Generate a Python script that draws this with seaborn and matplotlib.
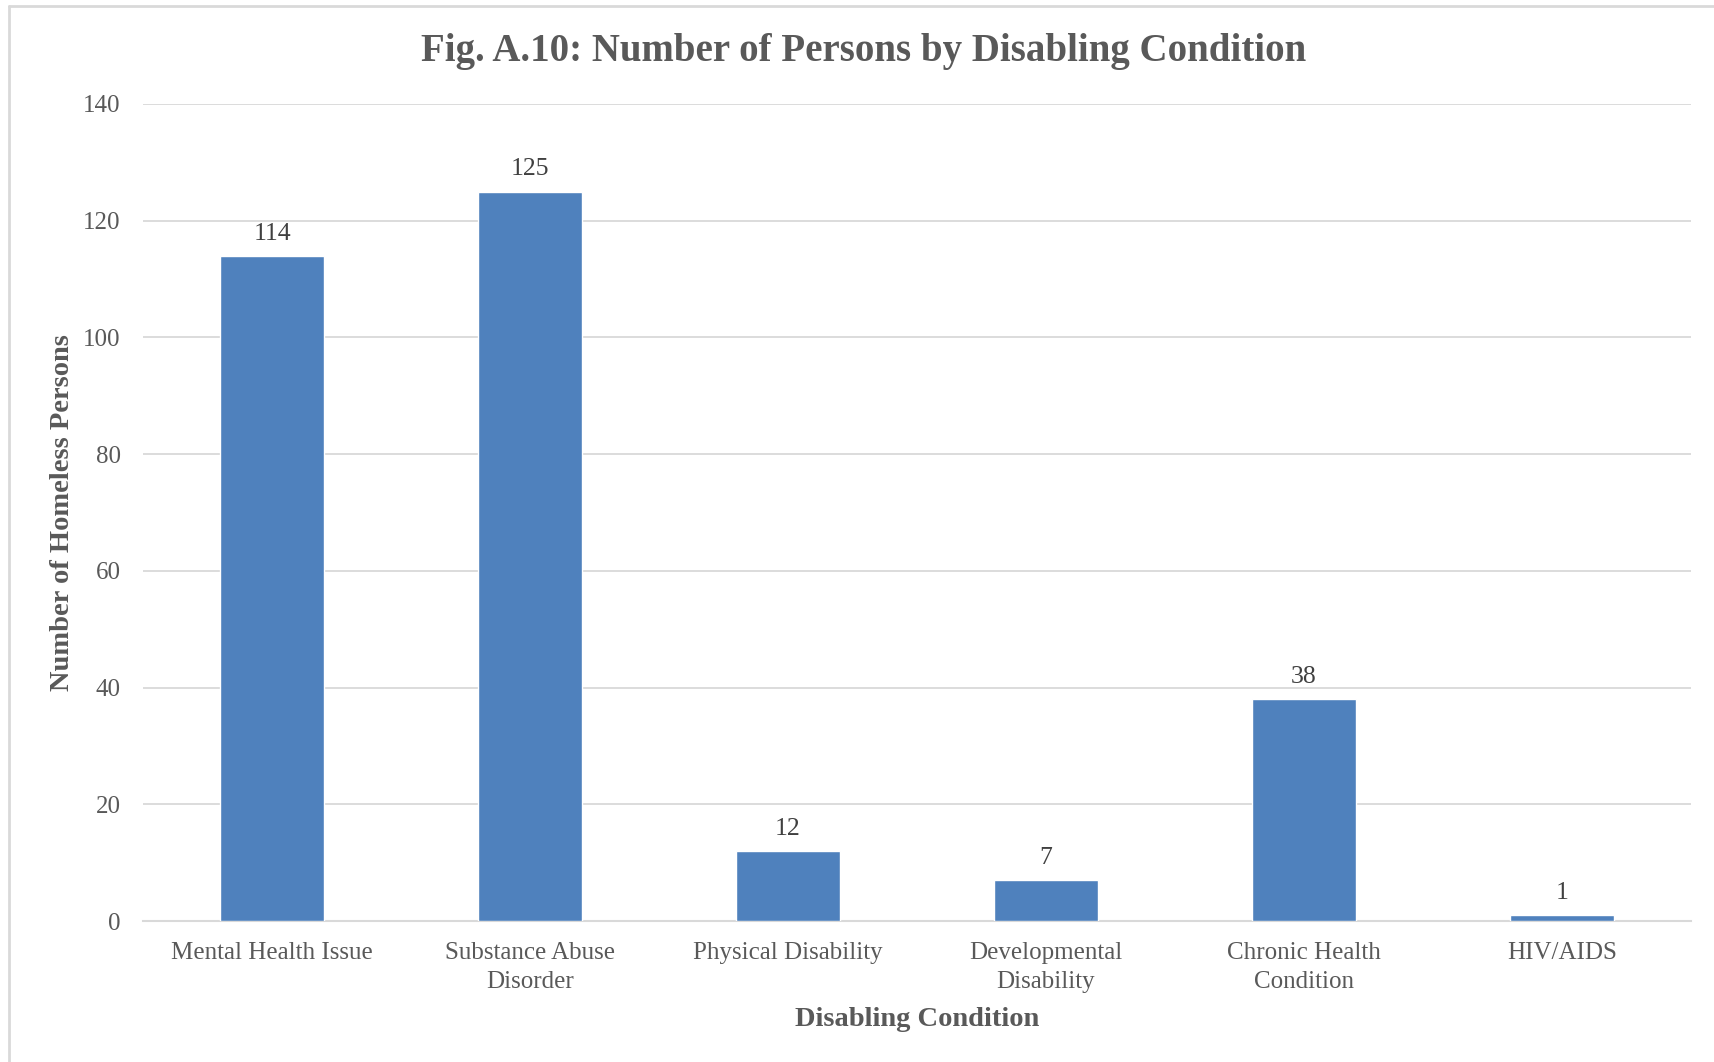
import matplotlib
matplotlib.use("Agg")
import matplotlib.pyplot as plt
import seaborn as sns
import pandas as pd
from matplotlib.lines import Line2D

categories = ["Mental Health Issue", "Substance Abuse\nDisorder", "Physical Disability",
              "Developmental\nDisability", "Chronic Health\nCondition", "HIV/AIDS"]
values = [114, 125, 12, 7, 38, 1]
yticks = [0, 20, 40, 60, 80, 100, 120, 140]

sns.set_theme(style="white")
plt.rcParams['font.family'] = ['Liberation Serif', 'DejaVu Serif']

TXT = "#595959"
BAR = "#4F81BD"
GRID = "#D9D9D9"

W, H = 1715, 1062
fig = plt.figure(figsize=(W / 100, H / 100), dpi=100)
ax = fig.add_axes([143 / W, 1 - 921 / H, (1691 - 143) / W, (921 - 104) / H])

df = pd.DataFrame({"cat": categories, "val": values})
sns.barplot(data=df, x="cat", y="val", color=BAR, width=0.4, saturation=1, ax=ax, zorder=3)

ax.set_ylim(0, 140)
ax.set_yticks(yticks)
ax.set_xlim(-0.5, len(categories) - 0.5)
ax.yaxis.grid(True, color=GRID, linewidth=1.3, zorder=0)
ax.set_axisbelow(True)
for s in ["top", "right", "left"]:
    ax.spines[s].set_visible(False)
ax.spines["bottom"].set_color(GRID)
ax.spines["bottom"].set_linewidth(1.5)
ax.tick_params(axis="both", length=0, colors=TXT, labelsize=18)
ax.tick_params(axis="x", pad=15)
ax.tick_params(axis="y", pad=16)
for lbl in ax.get_xticklabels():
    lbl.set_linespacing(1.4)

for c in ax.containers:
    ax.bar_label(c, labels=[str(v) for v in values], padding=8, fontsize=18.5, color="#404040")

ax.set_xlabel("Disabling Condition", fontsize=20.5, fontweight="bold", color=TXT, labelpad=10)
ax.set_ylabel("Number of Homeless Persons", fontsize=20.5, fontweight="bold", color=TXT, labelpad=6)

fig.text(864 / W, 1 - 52 / H, "Fig. A.10: Number of Persons by Disabling Condition",
         ha="center", va="center", fontsize=28, fontweight="bold", color=TXT)

fig.lines.append(Line2D([9 / W, 1.0], [1 - 6 / H, 1 - 6 / H], transform=fig.transFigure,
                        color=GRID, linewidth=2))
fig.lines.append(Line2D([9 / W, 9 / W], [0.0, 1 - 6 / H], transform=fig.transFigure,
                        color=GRID, linewidth=2))

fig.savefig("out.png", dpi=100, facecolor="white")
